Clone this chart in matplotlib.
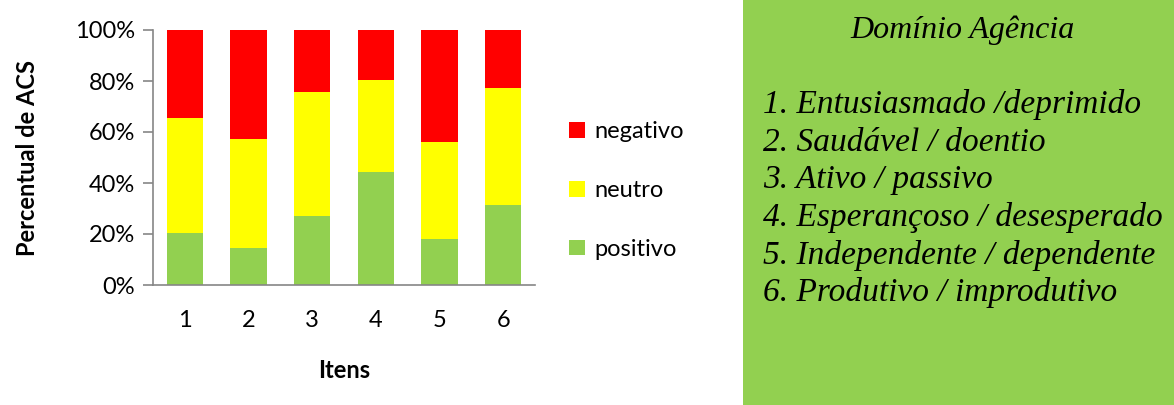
import numpy as np
import matplotlib.pyplot as plt
from matplotlib.patches import Rectangle

# dados (percentual de ACS por item)
itens = ['1', '2', '3', '4', '5', '6']
positivo = [20.4, 14.5, 27.0, 44.3, 18.0, 31.3]
neutro = [44.9, 42.7, 48.5, 35.9, 38.1, 46.0]
negativo = [34.7, 42.8, 24.5, 19.8, 43.9, 22.7]

titulo_painel = 'Domínio Agência'
descricoes = ['1. Entusiasmado /deprimido',
              '2. Saudável / doentio',
              '3. Ativo / passivo',
              '4. Esperançoso / desesperado',
              '5. Independente / dependente',
              '6. Produtivo / improdutivo']

verde = '#92D050'
amarelo = '#FFFF00'
vermelho = '#FF0000'
cinza = '#868686'

plt.rcParams['font.family'] = ['Lato', 'DejaVu Sans']
fs = 17

fig = plt.figure(figsize=(11.74, 4.05), dpi=100)
ax = fig.add_axes([153 / 1174, 120 / 405, 382 / 1174, 255 / 405])

x = np.arange(len(itens))
pos = np.array(positivo)
neu = np.array(neutro)
neg = np.array(negativo)
w = 0.57
b1 = ax.bar(x, pos, w, color=verde, label='positivo')
b2 = ax.bar(x, neu, w, bottom=pos, color=amarelo, label='neutro')
b3 = ax.bar(x, neg, w, bottom=pos + neu, color=vermelho, label='negativo')

ax.set_xlim(-0.5, len(itens) - 0.5)
ax.set_ylim(0, 100)
ax.set_yticks(np.arange(0, 101, 20))
ax.set_yticklabels([f'{v}%' for v in range(0, 101, 20)])
ax.set_xticks(x)
ax.set_xticklabels(itens)
for s in ['top', 'right']:
    ax.spines[s].set_visible(False)
for s in ['left', 'bottom']:
    ax.spines[s].set_color(cinza)
    ax.spines[s].set_linewidth(1.2)
ax.tick_params(axis='y', length=7, color=cinza, width=1.2, labelsize=fs, pad=6)
ax.tick_params(axis='x', length=0, labelsize=fs, pad=18)
ax.set_ylabel('Percentual de ACS', fontsize=fs, fontweight='bold', labelpad=26)
ax.set_xlabel('Itens', fontsize=fs, fontweight='bold', labelpad=20)

fig.legend(handles=[b3, b2, b1], loc='upper left', bbox_to_anchor=(548 / 1174, 1 - 100 / 405),
           frameon=False, fontsize=fs, handlelength=0.65, handleheight=0.65,
           handletextpad=0.4, labelspacing=1.6)

# painel verde com a descrição dos itens
fig.patches.append(Rectangle((743 / 1174, 0), 431 / 1174, 1, transform=fig.transFigure,
                             facecolor=verde, edgecolor='none'))
serif = ['Liberation Serif', 'DejaVu Serif']
fig.text(962 / 1174, 1 - 30 / 405, titulo_painel, ha='center', va='center',
         fontsize=23, style='italic', family=serif)
for i, d in enumerate(descricoes):
    fig.text(763 / 1174, 1 - (105 + 37.6 * i) / 405, d, ha='left', va='center',
             fontsize=24, style='italic', family=serif)

fig.savefig('out.png', dpi=100)
